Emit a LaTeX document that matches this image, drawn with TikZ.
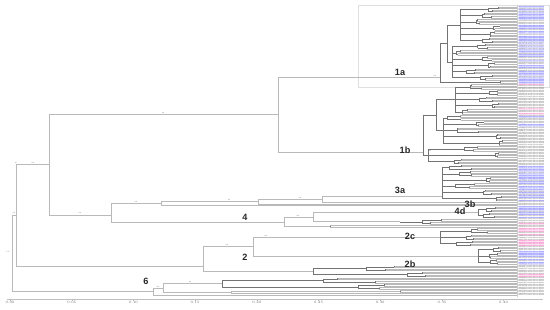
\documentclass[tikz,border=0pt]{standalone}
\usepackage{fontspec}
\setmainfont{Liberation Sans}
\newcount\leafcount
\def\tipx{517}
\def\leafsep{1.55}
\def\hlstyle{plainlbl}
\def\hlprob{0}
\tikzset{
  backbone/.style={draw=gray!55, line width=0.6pt},
  inner/.style={draw=black!55, line width=0.25pt},
  tipline/.style={draw=gray!55, line width=1pt},
  leaflbl/.style={anchor=west, inner sep=0.1pt, font=\fontsize{2.3}{2.3}\selectfont},
  hlblue/.style={text=blue!75, fill=blue!12},
  hlpink/.style={text=magenta!80, fill=magenta!10},
  plainlbl/.style={text=black!65},
  clabel/.style={font=\fontsize{13}{13}\selectfont\bfseries, text=black!85},
  support/.style={font=\fontsize{2.2}{2.2}\selectfont, text=black!60, inner sep=0.3pt},
  axisline/.style={draw=gray!50, line width=0.5pt}
}
% one tip: terminal branch and its label
\newcommand\leaftip[2]{%
  \draw[tipline] (#1,#2) -- (\tipx,#2);
  \global\advance\leafcount by 1
  \pgfmathtruncatemacro\acca{1000+8999*rnd}
  \pgfmathtruncatemacro\accb{100+899*rnd}
  \pgfmathtruncatemacro\yr{2008+12*rnd}
  \pgfmathsetmacro\hlpick{rnd}
  \ifdim\hlpick pt<\hlprob pt \def\lstyle{\hlstyle}\else\def\lstyle{plainlbl}\fi
  \node[leaflbl,\lstyle] (leaf\the\leafcount) at (\tipx+1.5,#2) {MK\acca\accb\ Hu/GII.P16-GII.4/\yr};
}
% root x, stem y, first leaf y, quads, quad x min, quad x max
\newcommand\cladecomb[6]{%
  \pgfmathsetmacro\cfirst{#3+1.5*\leafsep}
  \pgfmathsetmacro\clast{#3+(4*#4-2.5)*\leafsep}
  \pgfmathsetmacro\ctop{min(\cfirst,#2)}
  \pgfmathsetmacro\cbot{max(\clast,#2)}
  \foreach \q in {1,...,#4}{
    \pgfmathsetmacro\ya{#3+4*(\q-1)*\leafsep}
    \pgfmathsetmacro\yb{\ya+\leafsep}
    \pgfmathsetmacro\yc{\ya+2*\leafsep}
    \pgfmathsetmacro\yd{\ya+3*\leafsep}
    \pgfmathsetmacro\ym{\ya+1.5*\leafsep}
    \pgfmathsetmacro\xq{#5+(#6-#5)*rnd}
    \pgfmathsetmacro\xca{\xq+(\tipx-\xq)*0.35*rnd}
    \pgfmathsetmacro\xcb{\xq+(\tipx-\xq)*0.35*rnd}
    \leaftip{\xca}{\ya}\leaftip{\xca}{\yb}\leaftip{\xcb}{\yc}\leaftip{\xcb}{\yd}
    \draw[inner] (#1,\ym) -- (\xq,\ym)
      (\xq,\ya+0.5*\leafsep) -- (\xq,\ya+2.5*\leafsep)
      (\xq,\ya+0.5*\leafsep) -- (\xca,\ya+0.5*\leafsep)
      (\xq,\ya+2.5*\leafsep) -- (\xcb,\ya+2.5*\leafsep)
      (\xca,\ya) -- (\xca,\yb) (\xcb,\yc) -- (\xcb,\yd);
  }
  \draw[inner] (#1,\ctop) -- (#1,\cbot);
}
\begin{document}
\begin{tikzpicture}[x=0.5mm,y=-0.5mm]
\useasboundingbox (0,0) rectangle (550,309);
\pgfmathsetseed{11}

% frame round clade 1a and tip line
\draw[gray!25, line width=0.4pt] (358,5) rectangle (549,87);
\draw[gray!40, line width=0.3pt] (\tipx,5) -- (\tipx,297);

% clade 1a
\def\hlstyle{hlblue}\def\hlprob{0.6}
\cladecomb{460}{24.8}{7}{6}{465}{500}
\cladecomb{452}{62}{44.2}{6}{456}{498}
\leaftip{500}{81.4}\leaftip{500}{82.95}
\draw[inner] (500,81.4) -- (500,82.95);
\draw[inner] (447,24.8) -- (447,62) (447,24.8) -- (460,24.8) (447,62) -- (452,62);
\draw[inner] (440,43.4) -- (440,82.2) (440,43.4) -- (447,43.4) (440,82.2) -- (500,82.2);

% clade 1b
\def\hlstyle{hlpink}\def\hlprob{0.2}
\cladecomb{455}{99.2}{84.5}{5}{460}{505}
\def\hlstyle{hlblue}\def\hlprob{0.3}
\cladecomb{443}{130.2}{115.5}{5}{446}{500}
\def\hlprob{0}
\cladecomb{428}{155}{146.5}{3}{432}{495}
\draw[inner] (436,99.2) -- (436,130.2) (436,99.2) -- (455,99.2) (436,130.2) -- (443,130.2);
\draw[inner] (423,114.7) -- (423,155) (423,114.7) -- (436,114.7) (423,155) -- (428,155);

% clade 3
\def\hlstyle{hlblue}\def\hlprob{0.7}
\cladecomb{442}{196}{165.1}{6}{448}{500}
\def\hlprob{0}
\leaftip{322}{202.3}\leaftip{258}{203.85}\leaftip{161}{205.4}

% clade 4
\def\hlprob{0.8}
\cladecomb{478}{212.4}{206.95}{2}{482}{500}
\def\hlstyle{hlpink}\def\hlprob{0.3}
\cladecomb{400}{221.7}{219.35}{1}{405}{440}
\leaftip{330}{225.55}\leaftip{330}{227.1}
\draw[inner] (330,225.55) -- (330,227.1);

% clade 2
\def\hlprob{0.6}
\cladecomb{440}{237.2}{228.65}{3}{443}{475}
\def\hlstyle{hlblue}
\cladecomb{478}{255.8}{247.25}{3}{481}{502}
\def\hlstyle{hlpink}\def\hlprob{0.4}
\cladecomb{313}{271.3}{265.85}{2}{330}{480}

% clade 6
\def\hlprob{0}
\cladecomb{222}{283.7}{278.25}{2}{235}{380}
\leaftip{400}{290.65}\leaftip{400}{292.2}
\draw[inner] (400,290.65) -- (400,292.2);
\leaftip{231}{293.75}\leaftip{153}{295.3}

% backbone
\draw[backbone] (12,215) -- (12,291.6) (12,215) -- (16,215) (12,291.6) -- (153,291.6);
\draw[backbone] (16,164.5) -- (16,266) (16,164.5) -- (49,164.5) (16,266) -- (203,266);
\draw[backbone] (49,114) -- (49,215) (49,114) -- (278,114) (49,215) -- (111,215);
\draw[backbone] (278,77) -- (278,152) (278,77) -- (440,77) (278,152) -- (423,152);
\draw[backbone] (111,203) -- (111,222) (111,203) -- (161,203) (111,222) -- (284,222);
\draw[backbone] (161,201) -- (161,205.4) (161,201) -- (258,201);
\draw[backbone] (258,199) -- (258,203.85) (258,199) -- (322,199);
\draw[backbone] (322,196) -- (322,202.3) (322,196) -- (442,196);
\draw[backbone] (284,217) -- (284,226.3) (284,217) -- (313,217) (284,226.3) -- (330,226.3);
\draw[backbone] (313,212.4) -- (313,221.7) (313,212.4) -- (478,212.4) (313,221.7) -- (400,221.7);
\draw[backbone] (203,246.5) -- (203,271.3) (203,246.5) -- (253,246.5) (203,271.3) -- (313,271.3);
\draw[backbone] (253,237.2) -- (253,255.8) (253,237.2) -- (440,237.2) (253,255.8) -- (478,255.8);
\draw[backbone] (153,288) -- (153,295.3) (153,288) -- (163,288);
\draw[backbone] (163,283.7) -- (163,292.6) (163,283.7) -- (222,283.7) (163,292.6) -- (231,292.6);
\draw[backbone] (231,291.4) -- (231,293.75) (231,291.4) -- (400,291.4);

% support values
\foreach \sx/\sy/\sv [count=\n] in {14/213/100, 33/163/100, 16/163/95, 80/213/100,
    163/112.5/96, 136/201.5/100, 229/199.5/99, 300/197.5/100, 298/215.5/100,
    227/244.5/100, 266/235.5/100, 158/286.5/100, 190/282/99, 8/252/0.97, 435/75.5/100, 430/150.5/100}
  \node[support] (sup\n) at (\sx,\sy) {\sv};

% clade labels
\node[clabel] (lbl1a) at (400,72) {1a};
\node[clabel] (lbl1b) at (405,150) {1b};
\node[clabel] (lbl3a) at (400,190) {3a};
\node[clabel] (lbl3b) at (470,204) {3b};
\node[clabel] (lbl4d) at (460,211) {4d};
\node[clabel] (lbl4) at (245,217) {4};
\node[clabel] (lbl2c) at (410,236) {2c};
\node[clabel] (lbl2) at (245,257) {2};
\node[clabel] (lbl2b) at (410,264) {2b};
\node[clabel] (lbl6) at (146,281) {6};

% scale axis
\draw[axisline] (7,299) -- (543,299);
\foreach \k [count=\n] in {0,...,8}{
  \draw[axisline] (10+61.7*\k,299) -- (10+61.7*\k,300.5);
  \pgfmathsetmacro\tv{0.05*\k}
  \node[support, below] (tick\n) at (10+61.7*\k,300.5) {\pgfmathprintnumber[fixed,precision=2,zerofill]{\tv}};
}
\end{tikzpicture}
\end{document}
